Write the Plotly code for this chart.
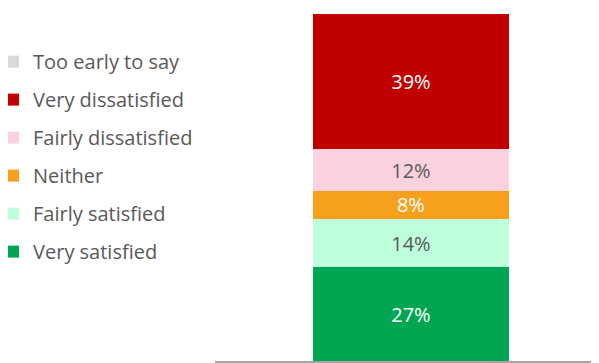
import plotly.graph_objects as go

category = [""]
series_names = ["Very satisfied", "Fairly satisfied", "Neither", "Fairly dissatisfied", "Very dissatisfied", "Too early to say"]
series_values = [27, 14, 8, 12, 39, 0]
series_colors = ["#00A651", "#BDFFDA", "#F6A01E", "#FBD1E0", "#C00000", "#D9D9D9"]
text_colors = ["#FFFFFF", "#595959", "#FFFFFF", "#595959", "#FFFFFF", "#595959"]

fig = go.Figure()
n = len(series_names)
for i, (name, val, col, tc) in enumerate(zip(series_names, series_values, series_colors, text_colors)):
    fig.add_trace(go.Bar(
        x=category, y=[val], name=name, marker=dict(color=col, line=dict(width=0)),
        width=0.5, legendgroup=name, legendrank=1000 + (n - i),
        text=[f"{val}%" if val > 0 else ""], textposition="inside", insidetextanchor="middle",
        constraintext="none",
        textfont=dict(color=tc, size=20, family="Open Sans"),
        hoverinfo="skip",
    ))

# page has an 8px body margin, so the figure is drawn 8px smaller and offset
fig.update_layout(
    width=591, height=355,
    barmode="stack",
    paper_bgcolor="white", plot_bgcolor="white",
    margin=dict(l=207, r=0, t=6, b=2, autoexpand=False),
    font=dict(family="Open Sans", size=20, color="#595959"),
    legend=dict(
        traceorder="grouped",
        x=-0.578, xanchor="left", y=0.919, yanchor="top",
        tracegroupgap=9, font=dict(size=20, color="#595959"),
        bgcolor="rgba(0,0,0,0)",
    ),
    xaxis=dict(range=[-0.5, 0.48], showticklabels=False, showline=True, linecolor="#A6A6A6", linewidth=2, ticks="", showgrid=False, zeroline=False),
    yaxis=dict(range=[0, 100], visible=False, showgrid=False),
    showlegend=True,
)

fig.write_html("out.html")
